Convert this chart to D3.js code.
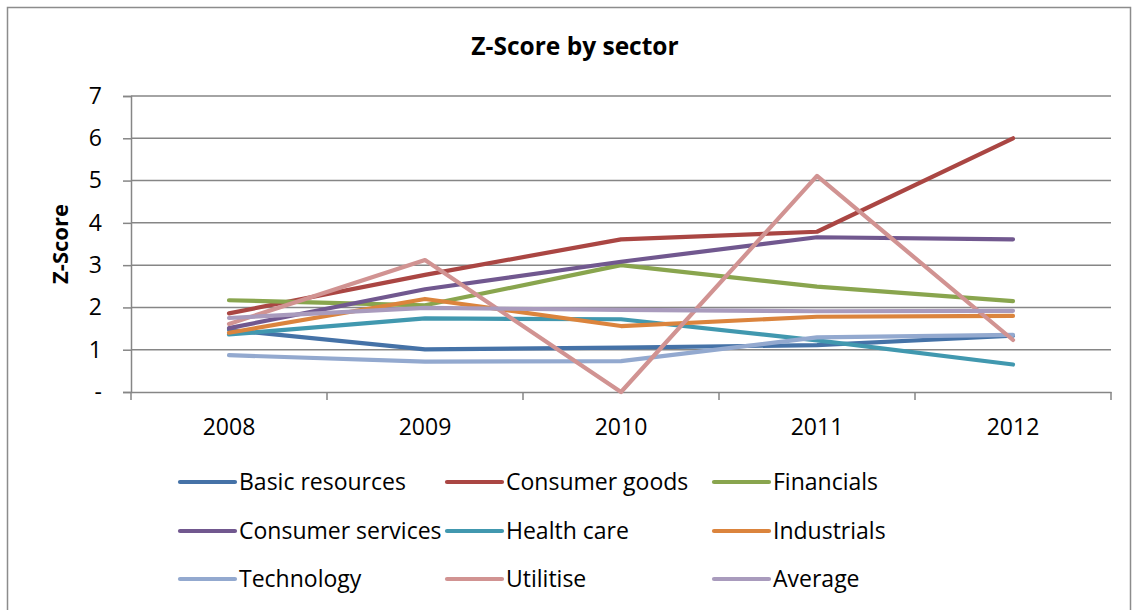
<!DOCTYPE html>
<html>
<head>
<meta charset="utf-8">
<script src="https://cdn.jsdelivr.net/npm/d3@7"></script>
<style>
  html, body { margin: 0; padding: 0; background: #fff; }
  svg { display: block; font-family: "Open Sans", Lato, sans-serif; }
</style>
</head>
<body>
<svg id="chart" width="1137" height="610"></svg>
<script>
const years = ["2008", "2009", "2010", "2011", "2012"];
const seriesNames = ["Basic resources", "Consumer goods", "Financials",
  "Consumer services", "Health care", "Industrials",
  "Technology", "Utilitise", "Average"];
const basicResources   = [1.47, 1.01, 1.05, 1.11, 1.33];
const consumerGoods    = [1.86, 2.77, 3.61, 3.79, 6.00];
const financials       = [2.17, 2.05, 3.00, 2.49, 2.15];
const consumerServices = [1.51, 2.43, 3.08, 3.66, 3.61];
const healthCare       = [1.36, 1.74, 1.72, 1.22, 0.65];
const industrials      = [1.40, 2.20, 1.56, 1.78, 1.80];
const technology       = [0.87, 0.72, 0.73, 1.29, 1.35];
const utilitise        = [1.61, 3.12, 0.00, 5.11, 1.23];
const average          = [1.75, 1.99, 1.94, 1.91, 1.92];
const yTicks = [0, 1, 2, 3, 4, 5, 6, 7];
const colors = ["#4572A7", "#AA4643", "#89A54E", "#71588F", "#4198AF",
  "#DB843D", "#93A9CF", "#D19392", "#A99BBD"];

const seriesValues = [basicResources, consumerGoods, financials, consumerServices,
  healthCare, industrials, technology, utilitise, average];
const series = seriesNames.map((name, i) => ({ name, values: seriesValues[i], color: colors[i] }));

const svg = d3.select("#chart");
const plotLeft = 131, plotRight = 1111, plotTop = 96, plotBottom = 392;
const FONT = "'Open Sans', Lato, sans-serif";

// outer border
svg.append("rect").attr("x", 7.5).attr("y", 7.5).attr("width", 1123).attr("height", 620)
  .attr("fill", "#fff").attr("stroke", "#8c8c8c").attr("stroke-width", 1.5);

const x = d3.scaleBand().domain(years).range([plotLeft, plotRight]);
const y = d3.scaleLinear().domain([0, 7]).range([plotBottom, plotTop]);

// gridlines
svg.append("g").selectAll("line").data(yTicks.filter(d => d > 0)).join("line")
  .attr("x1", plotLeft).attr("x2", plotRight)
  .attr("y1", d => y(d)).attr("y2", d => y(d))
  .attr("stroke", "#868686").attr("stroke-width", 1.5);

// y axis
const yAxis = d3.axisLeft(y).tickValues(yTicks).tickSize(8).tickPadding(21)
  .tickFormat(d => d === 0 ? "-" : d3.format("d")(d));
const gy = svg.append("g").attr("transform", `translate(${plotLeft},0)`).call(yAxis);
gy.select(".domain").attr("stroke", "#868686").attr("stroke-width", 1.5);
gy.selectAll(".tick line").attr("stroke", "#868686").attr("stroke-width", 1.5);
gy.selectAll(".tick text").attr("font-size", 23).attr("fill", "#000")
  .style("font-family", FONT);

// x axis
const xAxis = d3.axisBottom(x).tickSize(0).tickPadding(27);
const gx = svg.append("g").attr("transform", `translate(0,${plotBottom})`).call(xAxis);
gx.select(".domain").attr("stroke", "#868686").attr("stroke-width", 1.5);
gx.selectAll(".tick text").attr("font-size", 23).attr("fill", "#000")
  .style("font-family", FONT);
// category boundary tick marks
const boundaries = years.map(d => x(d)).concat([x(years[years.length - 1]) + x.bandwidth()]);
svg.append("g").selectAll("line").data(boundaries).join("line")
  .attr("x1", d => d).attr("x2", d => d)
  .attr("y1", plotBottom).attr("y2", plotBottom + 8)
  .attr("stroke", "#868686").attr("stroke-width", 1.5);

// lines
const line = d3.line()
  .x((d, i) => x(years[i]) + x.bandwidth() / 2)
  .y(d => y(d));
svg.append("g").selectAll("path").data(series).join("path")
  .attr("d", d => line(d.values))
  .attr("fill", "none")
  .attr("stroke", d => d.color)
  .attr("stroke-width", 4.2)
  .attr("stroke-linejoin", "round")
  .attr("stroke-linecap", "round");

// title
svg.append("text").attr("x", 575).attr("y", 55).attr("text-anchor", "middle")
  .attr("font-size", 24.5).attr("font-weight", "bold").text("Z-Score by sector");

// y axis title
svg.append("text").attr("transform", `translate(68,244) rotate(-90)`)
  .attr("text-anchor", "middle").attr("font-size", 22).attr("font-weight", "bold")
  .text("Z-Score");

// legend
const colX = [180, 447, 714];
const rowY = [482, 531, 579];
const lg = svg.append("g").selectAll("g").data(series).join("g")
  .attr("transform", (d, i) => `translate(${colX[i % 3]},${rowY[Math.floor(i / 3)]})`);
lg.append("line").attr("x1", 0).attr("x2", 55).attr("y1", 0).attr("y2", 0)
  .attr("stroke", d => d.color).attr("stroke-width", 4.2).attr("stroke-linecap", "round");
lg.append("text").attr("x", 59).attr("y", 8).attr("font-size", 23).attr("fill", "#000")
  .text(d => d.name);
</script>
</body>
</html>
